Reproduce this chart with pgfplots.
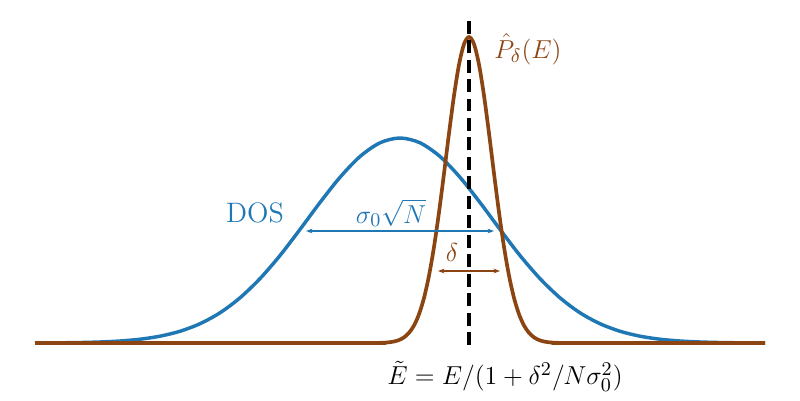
\documentclass[border=0pt]{standalone}
\usepackage{pgfplots}
\pgfplotsset{compat=1.18}
\usetikzlibrary{arrows.meta}
\definecolor{dosblue}{HTML}{1F77B4}
\definecolor{pbrown}{HTML}{8B4513}
\begin{document}
\begin{tikzpicture}[every node/.style={font=\fontsize{13}{15.5}\selectfont}]
\begin{axis}[
  scale only axis, width=370pt, height=185pt,
  xmin=0, xmax=800, ymin=0, ymax=400,
  hide axis, clip=false,
]
\path[draw=none] (axis cs:0,0) rectangle (axis cs:800,400);
% DOS (blue)
\addplot[dosblue, line width=1.6pt, smooth, tension=0.5] coordinates {
(35,57.08) (60,57.22) (80,57.48) (100,58.01) (120,59.00) (140,60.78) (160,63.82)
(180,68.75) (200,76.3) (220,87.2) (240,102.2) (260,121.4) (280,144.5) (300,170.6)
(320,197.5) (340,222.7) (360,243.5) (380,257.2) (400,262) (420,257.2) (440,243.5)
(460,222.7) (480,197.5) (500,170.6) (520,144.5) (540,121.4) (560,102.2) (580,87.2)
(600,76.3) (620,68.75) (640,63.82) (660,60.78) (680,59.00) (700,58.01) (720,57.48)
(740,57.22) (765,57.08)};
% P_delta (brown)
\addplot[pbrown, line width=1.7pt, smooth, tension=0.5] coordinates {
(35,57) (200,57) (374,57.05) (379,57.14) (384,57.33) (389,57.72) (394,58.50) (399,59.98)
(404,62.64) (409,67.2) (414,74.5) (419,85.8) (424,102.1) (429,124.4) (434,153.1)
(439,187.7) (444,226.5) (449,266.7) (454,304.4) (459,335.4) (464,355.9) (469,363)
(474,355.9) (479,335.4) (484,304.4) (489,266.7) (494,226.5) (499,187.7) (504,153.1)
(509,124.4) (514,102.1) (519,85.8) (524,74.5) (529,67.2) (534,62.64) (539,59.98)
(544,58.50) (549,57.72) (554,57.33) (559,57.14) (564,57.05) (740,57) (765,57)};
% dashed line
\addplot[black, line width=1.8pt, dash pattern=on 6pt off 3pt] coordinates {(469,55) (469,382)};
% arrows
\draw[dosblue, line width=0.7pt, {Stealth[length=3pt,width=2.2pt]}-{Stealth[length=3pt,width=2.2pt]}]
  (axis cs:306,169) -- (axis cs:494,169);
\draw[pbrown, line width=0.7pt, {Stealth[length=3pt,width=2.2pt]}-{Stealth[length=3pt,width=2.2pt]}]
  (axis cs:438,129) -- (axis cs:500,129);
% labels
\node[dosblue] at (axis cs:255,187) {DOS};
\node[dosblue] at (axis cs:391,187) {$\sigma_0\sqrt{N}$};
\node[pbrown] at (axis cs:452,148) {$\delta$};
\node[pbrown, anchor=west, inner sep=0pt] at (axis cs:494,351) {$\hat{P}_\delta(E)$};
\node[black] at (axis cs:505,24) {$\tilde{E}=E/(1+\delta^2/N\sigma_0^2)$};
\end{axis}
\end{tikzpicture}
\end{document}
